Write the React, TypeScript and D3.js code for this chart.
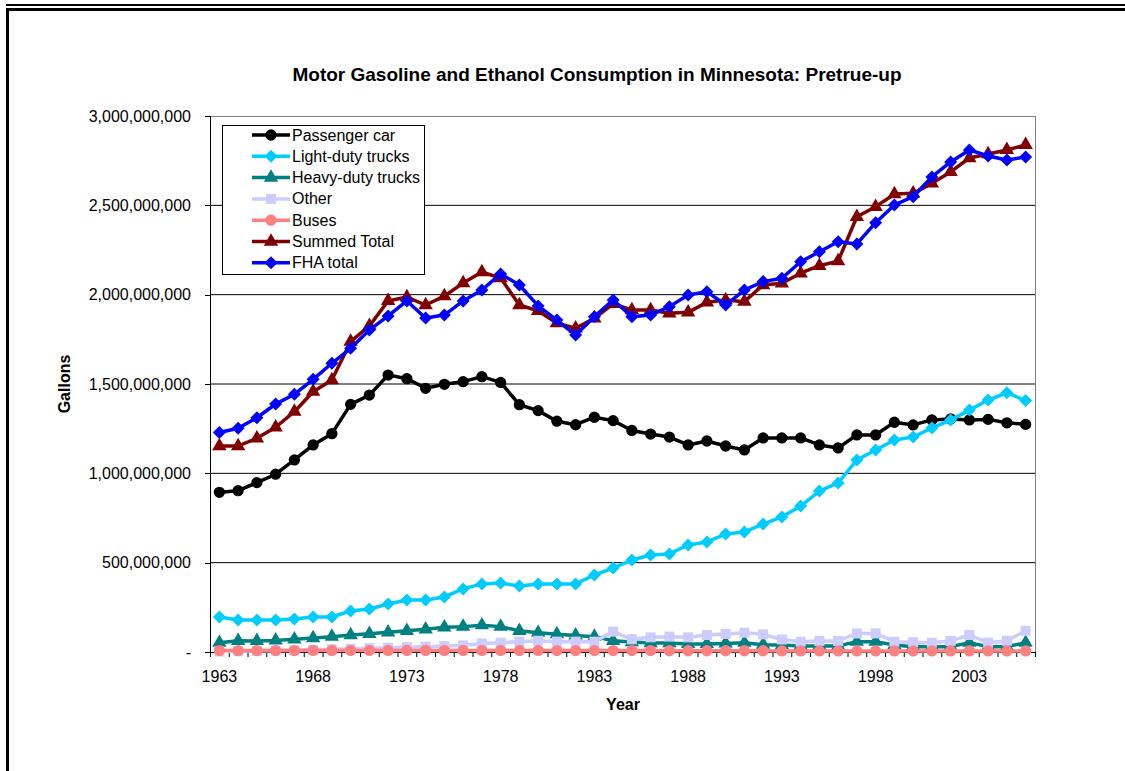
import React from "react";
import * as d3 from "d3";

const years = d3.range(1963, 2007);
const xTickYears = [1963, 1968, 1973, 1978, 1983, 1988, 1993, 1998, 2003];
const yTicks = [0, 500e6, 1000e6, 1500e6, 2000e6, 2500e6, 3000e6];

// values in millions of gallons
const passengerCar = [894, 903, 948, 995, 1075, 1159, 1222, 1386, 1438, 1550, 1530, 1476, 1498, 1513, 1541, 1509, 1384, 1351, 1292, 1272, 1314, 1295, 1240, 1220, 1203, 1159, 1181, 1153, 1131, 1198, 1198, 1198, 1159, 1142, 1215, 1215, 1286, 1271, 1299, 1304, 1299, 1302, 1283, 1274];
const lightDuty = [196, 179, 179, 179, 185, 196, 196, 230, 241, 269, 291, 291, 308, 353, 381, 386, 369, 381, 381, 381, 431, 470, 515, 543, 549, 599, 616, 660, 672, 716, 756, 817, 901, 946, 1075, 1131, 1187, 1203, 1254, 1298, 1354, 1410, 1451, 1407];
const heavyDuty = [52, 63, 62, 65, 71, 78, 86, 95, 102, 110, 119, 127, 138, 142, 150, 142, 119, 108, 100, 93, 86, 63, 56, 50, 50, 45, 45, 48, 52, 41, 39, 34, 34, 34, 58, 58, 39, 30, 30, 30, 52, 30, 30, 52];
const other = [3, 4, 6, 8, 10, 12, 15, 18, 21, 24, 27, 30, 33, 37, 48, 52, 58, 63, 58, 58, 58, 114, 71, 82, 86, 82, 95, 101, 108, 99, 70, 58, 62, 62, 104, 104, 58, 55, 52, 62, 95, 52, 63, 119];
const buses = [8, 8, 8, 8, 8, 9, 9, 9, 9, 9, 9, 9, 9, 9, 9, 9, 9, 9, 8, 8, 8, 8, 8, 8, 7, 7, 7, 7, 7, 7, 6, 6, 6, 6, 6, 6, 6, 6, 6, 6, 6, 6, 6, 6];
const summedTotal = [1153, 1153, 1196, 1258, 1345, 1457, 1522, 1737, 1825, 1965, 1987, 1942, 1992, 2065, 2127, 2093, 1942, 1909, 1841, 1812, 1868, 1948, 1914, 1914, 1896, 1901, 1957, 1970, 1961, 2054, 2064, 2120, 2162, 2188, 2436, 2492, 2563, 2567, 2623, 2687, 2765, 2787, 2810, 2838];
const fhaTotal = [1229, 1252, 1311, 1388, 1442, 1526, 1616, 1700, 1802, 1881, 1965, 1869, 1886, 1965, 2026, 2116, 2054, 1937, 1858, 1774, 1877, 1970, 1877, 1886, 1933, 1998, 2017, 1942, 2026, 2073, 2092, 2184, 2240, 2296, 2284, 2403, 2502, 2548, 2659, 2743, 2810, 2776, 2754, 2770];

type Shape = "circle" | "diamond" | "triangle" | "square";
const series: { name: string; values: number[]; color: string; shape: Shape }[] = [
  { name: "Passenger car", values: passengerCar, color: "#000000", shape: "circle" },
  { name: "Light-duty trucks", values: lightDuty, color: "#00CCFF", shape: "diamond" },
  { name: "Heavy-duty trucks", values: heavyDuty, color: "#008080", shape: "triangle" },
  { name: "Other", values: other, color: "#CCCCFF", shape: "square" },
  { name: "Buses", values: buses, color: "#FF8080", shape: "circle" },
  { name: "Summed Total", values: summedTotal, color: "#800000", shape: "triangle" },
  { name: "FHA total", values: fhaTotal, color: "#0000FF", shape: "diamond" },
];

const FONT = "'Liberation Sans', Arial, sans-serif";

function markerPath(shape: Shape): string {
  if (shape === "circle") return d3.symbol(d3.symbolCircle, 100)() as string;
  if (shape === "triangle") return d3.symbol(d3.symbolTriangle, 90)() as string;
  if (shape === "square") return d3.symbol(d3.symbolSquare, 100)() as string;
  const s = 6.5;
  return `M0,${-s}L${s},0L0,${s}L${-s},0Z`;
}

export default function App() {
  const W = 1125, H = 771;
  const left = 210, right = 1035, top = 116, bottom = 652;
  const x = d3.scaleBand<number>().domain(years).range([left, right]).padding(0);
  const y = d3.scaleLinear().domain([0, 3000e6]).range([bottom, top]);
  const cx = (yr: number) => (x(yr) as number) + x.bandwidth() / 2;
  const line = d3.line<number>().x((_, i) => cx(years[i])).y((v) => y(v * 1e6));
  const fmt = d3.format(",");

  const legendX = 222, legendY = 125, legendW = 202, legendH = 149;
  const rowH = 21.3;

  return (
    <svg width={W} height={H} style={{ display: "block", position: "absolute", left: 0, top: 0 }} fontFamily={FONT}>
      <rect x={0} y={0} width={W} height={H} fill="#fff" />
      <rect x={6} y={4} width={W - 6} height={2} fill="#000" />
      <rect x={6} y={8} width={W - 6} height={3} fill="#000" />
      <rect x={6} y={8} width={3} height={H - 8} fill="#000" />

      <text x={597} y={81} textAnchor="middle" fontSize={19} fontWeight="bold">
        Motor Gasoline and Ethanol Consumption in Minnesota: Pretrue-up
      </text>

      {yTicks.filter((t) => t > 0 && t < 3000e6).map((t) => (
        <line key={t} x1={left} x2={right} y1={y(t)} y2={y(t)} stroke="#000" strokeWidth={1} />
      ))}
      <line x1={left} x2={right} y1={top + 0.5} y2={top + 0.5} stroke="#808080" strokeWidth={1} />
      <line x1={right + 0.5} x2={right + 0.5} y1={top} y2={bottom} stroke="#808080" strokeWidth={1} />

      <line x1={left + 0.5} x2={left + 0.5} y1={top} y2={bottom} stroke="#000" />
      {yTicks.map((t) => (
        <g key={t}>
          <line x1={left - 5} x2={left} y1={Math.round(y(t)) + 0.5} y2={Math.round(y(t)) + 0.5} stroke="#000" />
          <text x={191} y={y(t) + 5.5} textAnchor="end" fontSize={16}>
            {t === 0 ? "-" : fmt(t)}
          </text>
        </g>
      ))}

      <line x1={left} x2={right} y1={bottom + 0.5} y2={bottom + 0.5} stroke="#000" />
      {years.map((yr) => (
        <line key={yr} x1={(x(yr) as number) + 0.5} x2={(x(yr) as number) + 0.5} y1={bottom} y2={bottom + 5} stroke="#000" />
      ))}
      <line x1={right + 0.5} x2={right + 0.5} y1={bottom} y2={bottom + 5} stroke="#000" />
      {xTickYears.map((yr) => (
        <text key={yr} x={cx(yr)} y={682} textAnchor="middle" fontSize={16}>
          {yr}
        </text>
      ))}

      <text x={623} y={710} textAnchor="middle" fontSize={16} fontWeight="bold">Year</text>
      <text transform={`translate(70,384) rotate(-90)`} textAnchor="middle" fontSize={16} fontWeight="bold">Gallons</text>

      {series.map((s) => (
        <g key={s.name}>
          <path d={line(s.values) as string} fill="none" stroke={s.color} strokeWidth={3.5} strokeLinejoin="round" />
          {s.values.map((v, i) => (
            <path key={i} d={markerPath(s.shape)} transform={`translate(${cx(years[i])},${y(v * 1e6)})`} fill={s.color} />
          ))}
        </g>
      ))}

      <rect x={legendX + 0.5} y={legendY + 0.5} width={legendW} height={legendH} fill="#fff" stroke="#000" />
      {series.map((s, i) => {
        const ly = legendY + 10 + i * rowH;
        return (
          <g key={s.name}>
            <line x1={252} x2={290} y1={ly} y2={ly} stroke={s.color} strokeWidth={3.5} />
            <path d={markerPath(s.shape)} transform={`translate(271,${ly})`} fill={s.color} />
            <text x={292} y={ly + 5.5} fontSize={16}>{s.name}</text>
          </g>
        );
      })}
    </svg>
  );
}
